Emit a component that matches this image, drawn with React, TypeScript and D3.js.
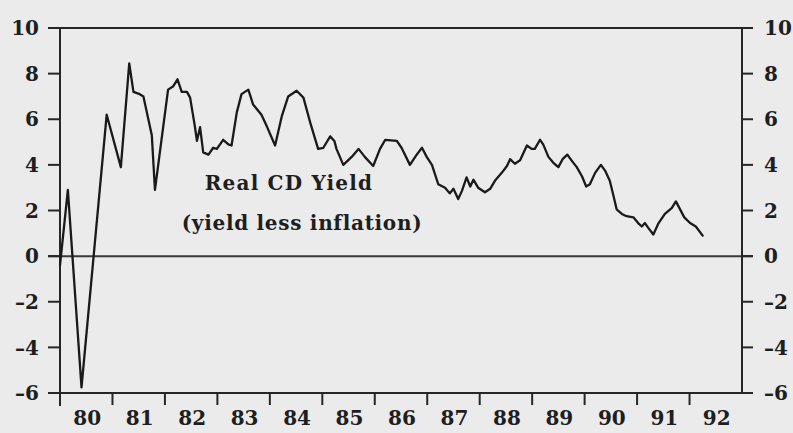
import React from "react";
import * as d3 from "d3";

const dates = [
  1980.0, 1980.15, 1980.41, 1980.89, 1981.16, 1981.32, 1981.4, 1981.52, 1981.59, 1981.75,
  1981.81, 1982.06, 1982.16, 1982.24, 1982.32, 1982.42, 1982.48, 1982.57, 1982.61, 1982.67,
  1982.73, 1982.83, 1982.92, 1982.99, 1983.11, 1983.21, 1983.27, 1983.37, 1983.46, 1983.59,
  1983.68, 1983.84, 1983.94, 1984.1, 1984.23, 1984.35, 1984.51, 1984.64, 1984.77, 1984.92,
  1985.02, 1985.15, 1985.23, 1985.27, 1985.4, 1985.56, 1985.69, 1985.81, 1985.97, 1986.1,
  1986.2, 1986.42, 1986.51, 1986.67, 1986.8, 1986.9, 1986.99, 1987.09, 1987.21, 1987.34,
  1987.43, 1987.5, 1987.59, 1987.66, 1987.75, 1987.82, 1987.88, 1987.97, 1988.1, 1988.2,
  1988.29, 1988.42, 1988.52, 1988.58, 1988.67, 1988.77, 1988.9, 1988.99, 1989.05, 1989.15,
  1989.21, 1989.31, 1989.4, 1989.5, 1989.58, 1989.67, 1989.75, 1989.85, 1989.95, 1990.03,
  1990.1, 1990.2, 1990.31, 1990.39, 1990.48, 1990.55, 1990.61, 1990.71, 1990.8, 1990.93,
  1991.02, 1991.09, 1991.15, 1991.21, 1991.31, 1991.41, 1991.53, 1991.66, 1991.74, 1991.82,
  1991.9, 1992.01, 1992.12, 1992.25,
];
const realYield = [
  -0.4, 2.9, -5.75, 6.2, 3.9, 8.45, 7.2, 7.1, 7.0, 5.3,
  2.9, 7.3, 7.45, 7.75, 7.2, 7.2, 6.95, 5.7, 5.05, 5.65,
  4.55, 4.45, 4.75, 4.7, 5.1, 4.9, 4.85, 6.3, 7.1, 7.3,
  6.65, 6.2, 5.7, 4.85, 6.15, 7.0, 7.25, 6.95, 5.85, 4.7,
  4.75, 5.25, 5.05, 4.7, 4.0, 4.35, 4.7, 4.35, 3.95, 4.7,
  5.1, 5.05, 4.75, 4.0, 4.45, 4.75, 4.35, 4.0, 3.15, 3.0,
  2.75, 2.95, 2.5, 2.85, 3.45, 3.05, 3.35, 3.0, 2.8, 2.95,
  3.3, 3.65, 3.95, 4.25, 4.05, 4.2, 4.85, 4.7, 4.7, 5.1,
  4.9, 4.35, 4.1, 3.9, 4.25, 4.45, 4.2, 3.9, 3.5, 3.05,
  3.15, 3.65, 4.0, 3.75, 3.3, 2.65, 2.05, 1.85, 1.75, 1.7,
  1.45, 1.3, 1.45, 1.25, 0.95, 1.45, 1.85, 2.1, 2.4, 2.05,
  1.7, 1.45, 1.3, 0.9,
];

const yTicks = [-6, -4, -2, 0, 2, 4, 6, 8, 10];
const yearLabels = ["80", "81", "82", "83", "84", "85", "86", "87", "88", "89", "90", "91", "92"];

const W = 793;
const H = 433;
const left = 60;
const right = 742;
const top = 28;
const bottom = 393;

const font = "'DejaVu Serif', serif";
const ink = "#262626";
const textInk = "#1e1e1e";

const fmt = (t: number) => (t < 0 ? "\u2013" + Math.abs(t) : String(t));

export default function App() {
  const x = d3.scaleLinear().domain([1980, 1993]).range([left, right]);
  const y = d3.scaleLinear().domain([-6, 10]).range([bottom, top]);

  const pts = dates.map((d, i) => [d, realYield[i]] as [number, number]);
  const line = d3
    .line<[number, number]>()
    .x((d) => x(d[0]))
    .y((d) => y(d[1]));

  const yearStarts = d3.range(1980, 1993);

  return (
    <svg
      width={W}
      height={H}
      style={{ position: "absolute", left: 0, top: 0, background: "#ebebeb" }}
    >
      <rect x={0} y={0} width={W} height={H} fill="#ebebeb" />

      {/* frame: top, bottom, zero line, side axes */}
      <line x1={left - 12} x2={right + 11} y1={y(10)} y2={y(10)} stroke={ink} strokeWidth={2} />
      <line x1={left - 10} x2={right + 11} y1={y(-6)} y2={y(-6)} stroke={ink} strokeWidth={2} />
      <line x1={left - 12} x2={right + 11} y1={y(0)} y2={y(0)} stroke="#3a3a3a" strokeWidth={2} />
      <line x1={left} x2={left} y1={y(10)} y2={y(-6) + 13} stroke={ink} strokeWidth={2} />
      <line x1={right} x2={right} y1={y(10)} y2={y(-6)} stroke={ink} strokeWidth={2} />

      {/* y ticks and labels, both sides */}
      {yTicks.map((t) => (
        <g key={t}>
          <line x1={left - 12} x2={left} y1={y(t)} y2={y(t)} stroke={ink} strokeWidth={2} />
          <line x1={right} x2={right + 11} y1={y(t)} y2={y(t)} stroke={ink} strokeWidth={2} />
          <text
            x={39}
            y={y(t)}
            dy="0.36em"
            textAnchor="end"
            fontFamily={font}
            fontWeight="bold"
            fontSize={20}
            fill={textInk}
          >
            {fmt(t)}
          </text>
          <text
            x={764}
            y={y(t)}
            dy="0.36em"
            textAnchor="start"
            fontFamily={font}
            fontWeight="bold"
            fontSize={20}
            fill={textInk}
          >
            {fmt(t)}
          </text>
        </g>
      ))}

      {/* x ticks at year boundaries, labels centred on each year */}
      {yearStarts.map((yr, i) => (
        <g key={yr}>
          {i > 0 && (
            <line x1={x(yr)} x2={x(yr)} y1={y(-6)} y2={y(-6) + 12} stroke={ink} strokeWidth={2} />
          )}
          <text
            x={x(yr + 0.5) + 1}
            y={425}
            textAnchor="middle"
            fontFamily={font}
            fontWeight="bold"
            fontSize={20}
            fill={textInk}
          >
            {yearLabels[i]}
          </text>
        </g>
      ))}

      {/* series */}
      <path
        d={line(pts) || ""}
        fill="none"
        stroke="#1a1a1a"
        strokeWidth={2.3}
        strokeLinejoin="round"
        strokeLinecap="round"
      />

      {/* annotation */}
      <text
        x={289}
        y={190}
        textAnchor="middle"
        fontFamily={font}
        fontWeight="bold"
        fontSize={20}
        letterSpacing={1.2}
        fill={textInk}
      >
        Real CD Yield
      </text>
      <text
        x={302}
        y={230}
        textAnchor="middle"
        fontFamily={font}
        fontWeight="bold"
        fontSize={20}
        letterSpacing={0.7}
        fill={textInk}
      >
        (yield less inflation)
      </text>
    </svg>
  );
}
